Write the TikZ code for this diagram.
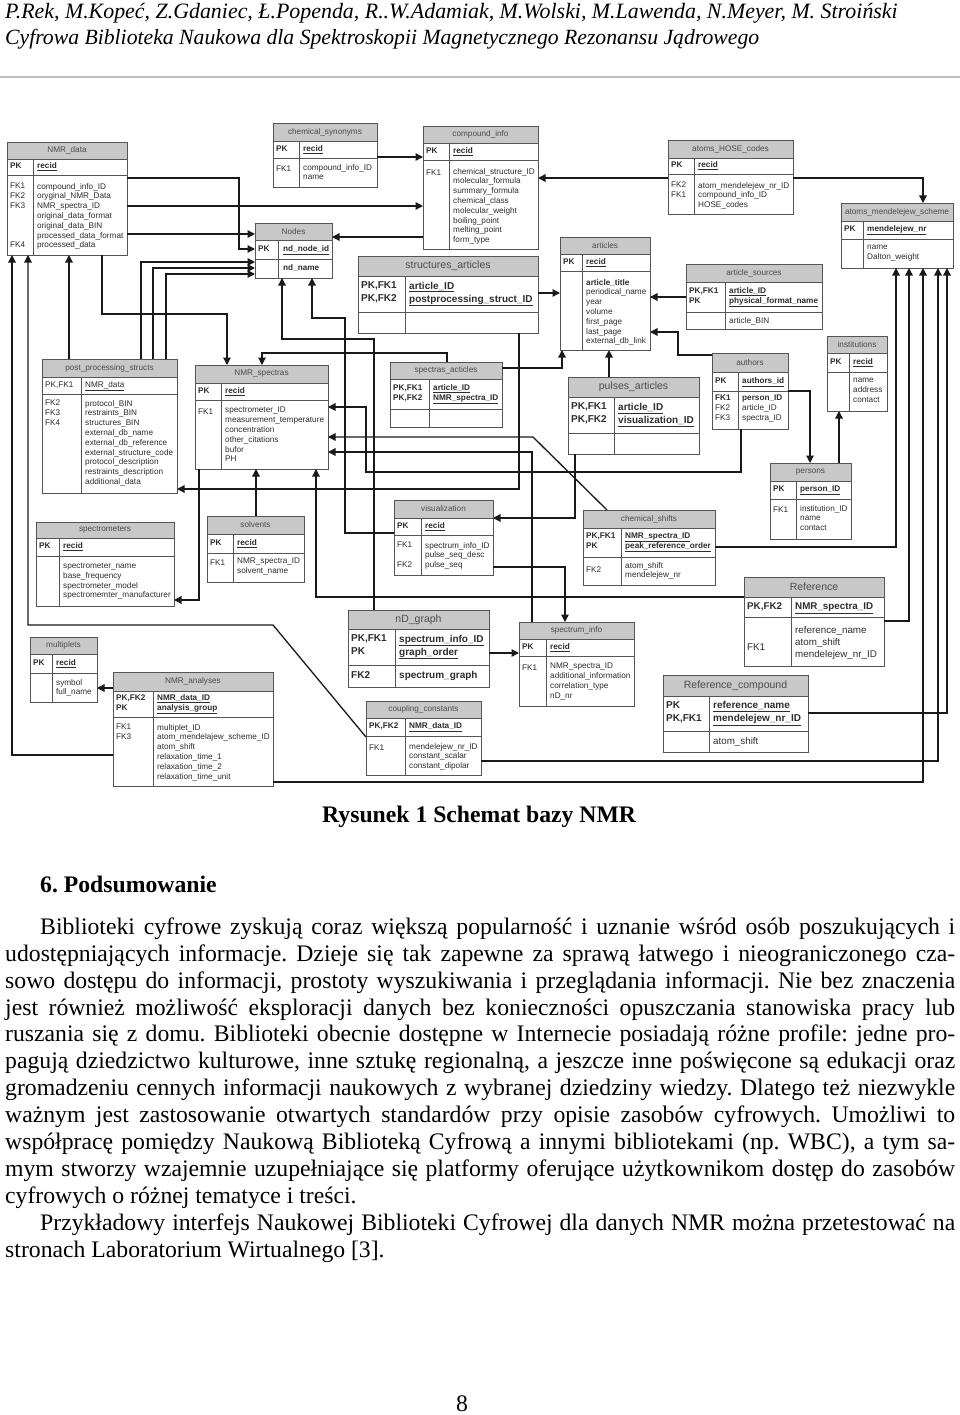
\documentclass[tikz,border=0pt]{standalone}
\usepackage{fontspec}
\setmainfont{Liberation Serif}
\setsansfont{Liberation Sans}
\usetikzlibrary{arrows.meta}
\definecolor{titlegray}{RGB}{200,200,200}
\definecolor{tabline}{RGB}{85,85,85}
\definecolor{tabtext}{RGB}{45,45,45}
\newcommand\tsmall{\sffamily\fontsize{8.2}{9.8}\selectfont}
\newcommand\tmid{\sffamily\fontsize{9.8}{12.3}\selectfont}
\newcommand\tbig{\sffamily\fontsize{10}{13}\selectfont}
\newcommand\ttbig{\fontsize{10.5}{12}\selectfont}
\newcommand\pk[1]{\textbf{\underline{#1}}}
\newcommand\bodyfont{\fontsize{23.7}{27}\selectfont}
\tikzset{
  tabframe/.style={draw=tabline, line width=0.9pt, inner sep=0pt, outer sep=0pt},
  tabtitle/.style={inner sep=0pt, font=\tsmall, text=black!70},
  cell/.style={inner sep=0pt, anchor=north west, align=left, font=\tsmall, text=tabtext, execute at begin node=\strut},
  pkcell/.style={cell, anchor=west},
  fk/.style={draw=black!90, line width=1.3pt, -{Triangle[length=7.5pt,width=7.5pt]}},
  txt/.style={inner sep=0pt, anchor=base west, font=\bodyfont},
}
% one table: name, x1, y1, x2, y2, key column, title bottom, pk bottom, title
\newcommand\ertab[9]{%
  \fill[titlegray] (#2,#3) rectangle (#4,#7);
  \draw[tabline, line width=0.9pt] (#2,#7) -- (#4,#7) (#2,#8) -- (#4,#8) (#6,#7) -- (#6,#5);
  \node[tabframe, minimum width={(#4)-(#2)}, minimum height={(#5)-(#3)}] (#1) at ({((#2)+(#4))/2},{((#3)+(#5))/2}) {};
  \node[tabtitle] (#1-t) at ({((#2)+(#4))/2},{((#3)+(#7))/2}) {#9};
}
% one row block: style, name, key x, field x, y, keys, fields
\newcommand\trow[7][cell]{%
  \node[#1] (#2k) at (#3,#5) {#6};
  \node[#1] (#2f) at (#4,#5) {#7};
}
\begin{document}
\catcode`\_=12
\frenchspacing
\begin{tikzpicture}[x=1pt,y=-1pt]
\useasboundingbox (0,0) rectangle (960,1415);
\fill[white] (0,0) rectangle (960,1415);

% running head
\node[inner sep=0pt, anchor=base west, font=\itshape\fontsize{21.9}{26}\selectfont] (head1) at (5,19) {P.Rek, M.Kopeć, Z.Gdaniec, Ł.Popenda, R..W.Adamiak, M.Wolski, M.Lawenda, N.Meyer, M. Stroiński};
\node[inner sep=0pt, anchor=base west, font=\itshape\fontsize{21.7}{26}\selectfont] (head2) at (5,45) {Cyfrowa Biblioteka Naukowa dla Spektroskopii Magnetycznego Rezonansu Jądrowego};
\draw[black!25, line width=1.5pt] (0,77) -- (960,77);

% NMR_data
\ertab{nmrdata}{7}{142}{127}{255}{33}{159}{175}{NMR_data}
\trow[pkcell]{nmrdata1}{10}{37}{167}{\textbf{PK}}{\pk{recid}}
\trow{nmrdata2}{10}{37}{183}{FK1\\FK2\\FK3\\\mbox{}\\\mbox{}\\\mbox{}\\FK4}{compound_info_ID\\oryginal_NMR_Data\\NMR_spectra_ID\\original_data_format\\original_data_BIN\\processed_data_format\\processed_data}

% chemical_synonyms
\ertab{chemsyn}{273}{123}{377}{187}{299}{141}{158}{chemical_synonyms}
\trow[pkcell]{chemsyn1}{276}{303}{149.5}{\textbf{PK}}{\pk{recid}}
\trow{chemsyn2}{276}{303}{164}{FK1}{compound_info_ID\\name}

% compound_info
\ertab{compinfo}{423}{126}{538}{249}{449}{143}{160}{compound_info}
\trow[pkcell]{compinfo1}{426}{453}{151.5}{\textbf{PK}}{\pk{recid}}
\trow{compinfo2}{426}{453}{168}{FK1}{chemical_structure_ID\\molecular_formula\\summary_formula\\chemical_class\\molecular_weight\\boiling_point\\melting_point\\form_type}

% Nodes
\ertab{nodes}{255}{223}{332}{278}{278}{240}{259}{Nodes}
\trow[pkcell]{nodes1}{258}{283}{249.5}{\textbf{PK}}{\pk{nd_node_id}}
\trow[pkcell]{nodes2}{258}{283}{268.5}{}{\textbf{nd_name}}

% atoms_HOSE_codes
\ertab{hose}{668}{140}{793}{214}{694}{158}{174}{atoms_HOSE_codes}
\trow[pkcell]{hose1}{671}{698}{166}{\textbf{PK}}{\pk{recid}}
\trow{hose2}{671}{698}{182}{FK2\\FK1}{atom_mendelejew_nr_ID\\compound_info_ID\\HOSE_codes}

% atoms_mendelejew_scheme
\ertab{mendel}{841}{203}{953}{268}{863}{221}{239}{atoms_mendelejew_scheme}
\trow[pkcell]{mendel1}{844}{867}{230}{\textbf{PK}}{\pk{mendelejew_nr}}
\trow{mendel2}{844}{867}{245}{}{name\\Dalton_weight}

% articles
\ertab{articles}{560}{237}{650}{350}{582}{254}{271}{articles}
\trow[pkcell]{articles1}{563}{586}{262.5}{\textbf{PK}}{\pk{recid}}
\trow{articles2}{563}{586}{279}{}{\textbf{article_title}\\periodical_name\\year\\volume\\first_page\\last_page\\external_db_link}

% article_sources
\ertab{artsrc}{686}{264}{822}{329}{725}{282}{312}{article_sources}
\trow[pkcell]{artsrc1}{689}{729}{297}{\textbf{PK,FK1}\\\textbf{PK}}{\pk{article_ID}\\\pk{physical_format_name}}
\trow{artsrc2}{689}{729}{316}{}{article_BIN}

% structures_articles
\ertab{structart}{358}{256}{538}{333}{405}{276}{312}{\ttbig structures_articles}
\trow[pkcell,font=\tbig]{structart1}{361}{409}{294}{\textbf{PK,FK1}\\\textbf{PK,FK2}}{\pk{article_ID}\\\pk{postprocessing_struct_ID}}

% post_processing_structs
\ertab{pps}{42}{359}{177}{493}{81}{377}{394}{post_processing_structs}
\trow[pkcell]{pps1}{45}{85}{385.5}{PK,FK1}{\underline{NMR_data}}
\trow{pps2}{45}{85}{400}{FK2\\FK3\\FK4}{protocol_BIN\\restraints_BIN\\structures_BIN\\external_db_name\\external_db_reference\\external_structure_code\\protocol_description\\restraints_description\\additional_data}

% NMR_spectras
\ertab{nmrspec}{195}{365}{328}{469}{221}{383}{400}{NMR_spectras}
\trow[pkcell]{nmrspec1}{198}{225}{391.5}{\textbf{PK}}{\pk{recid}}
\trow{nmrspec2}{198}{225}{407}{FK1}{spectrometer_ID\\measurement_temperature\\concentration\\other_citations\\bufor\\PH}

% spectras_acticles
\ertab{specart}{390}{362}{502}{427}{429}{379}{409}{spectras_acticles}
\trow[pkcell]{specart1}{393}{433}{394}{\textbf{PK,FK1}\\\textbf{PK,FK2}}{\pk{article_ID}\\\pk{NMR_spectra_ID}}

% pulses_articles
\ertab{pulsart}{568}{377}{699}{454}{614}{397}{433}{\ttbig pulses_articles}
\trow[pkcell,font=\tbig]{pulsart1}{571}{618}{415}{\textbf{PK,FK1}\\\textbf{PK,FK2}}{\pk{article_ID}\\\pk{visualization_ID}}

% authors
\ertab{authors}{712}{353}{788}{429}{738}{372}{391}{authors}
\trow[pkcell]{authors1}{715}{742}{381.5}{\textbf{PK}}{\pk{authors_id}}
\trow{authors2}{715}{742}{395}{\textbf{FK1}\\FK2\\FK3}{\textbf{person_ID}\\article_ID\\spectra_ID}

% institutions
\ertab{inst}{827}{336}{887}{411}{849}{353}{372}{institutions}
\trow[pkcell]{inst1}{830}{853}{362.5}{\textbf{PK}}{\pk{recid}}
\trow{inst2}{830}{853}{378}{}{name\\address\\contact}

% persons
\ertab{persons}{770}{463}{851}{539}{796}{481}{499}{persons}
\trow[pkcell]{persons1}{773}{800}{490}{\textbf{PK}}{\pk{person_ID}}
\trow{persons2}{773}{800}{505}{FK1}{institution_ID\\name\\contact}

% spectrometers
\ertab{spectrom}{36}{522}{174}{606}{59}{538}{556}{spectrometers}
\trow[pkcell]{spectrom1}{39}{63}{547}{\textbf{PK}}{\pk{recid}}
\trow{spectrom2}{39}{63}{563}{}{spectrometer_name\\base_frequency\\spectrometer_model\\spectromemter_manufacturer}

% solvents
\ertab{solv}{207}{516}{304}{582}{233}{534}{553}{solvents}
\trow[pkcell]{solv1}{210}{237}{543.5}{\textbf{PK}}{\pk{recid}}
\trow{solv2}{210}{237}{558}{FK1}{NMR_spectra_ID\\solvent_name}

% visualization
\ertab{visual}{394}{500}{493}{575}{421}{518}{535}{visualization}
\trow[pkcell]{visual1}{397}{425}{526.5}{\textbf{PK}}{\pk{recid}}
\trow{visual2}{397}{425}{542}{FK1\\\mbox{}\\FK2}{spectrum_info_ID\\pulse_seq_desc\\pulse_seq}

% chemical_shifts
\ertab{chemsh}{583}{510}{715}{585}{621}{528}{557}{chemical_shifts}
\trow[pkcell]{chemsh1}{586}{625}{542.5}{\textbf{PK,FK1}\\\textbf{PK}}{\pk{NMR_spectra_ID}\\\pk{peak_reference_order}}
\trow{chemsh2}{586}{625}{562}{\mbox{}\\FK2}{atom_shift\\mendelejew_nr}

% multiplets
\ertab{multi}{30}{637}{97}{702}{52}{654}{673}{multiplets}
\trow[pkcell]{multi1}{33}{56}{663.5}{\textbf{PK}}{\pk{recid}}
\trow{multi2}{33}{56}{679}{}{symbol\\full_name}

% NMR_analyses
\ertab{nmranal}{113}{672}{273}{786}{153}{691}{717}{NMR_analyses}
\trow[pkcell]{nmranal1}{116}{157}{704}{\textbf{PK,FK2}\\\textbf{PK}}{\pk{NMR_data_ID}\\\pk{analysis_group}}
\trow{nmranal2}{116}{157}{724}{FK1\\FK3}{multiplet_ID\\atom_mendelajew_scheme_ID\\atom_shift\\relaxation_time_1\\relaxation_time_2\\relaxation_time_unit}

% nD_graph
\ertab{ndgraph}{348}{610}{489}{687}{395}{629}{665}{\ttbig nD_graph}
\trow[pkcell,font=\tbig]{ndgraph1}{351}{399}{647}{\textbf{PK,FK1}\\\textbf{PK}}{\pk{spectrum_info_ID}\\\pk{graph_order}}
\trow[pkcell,font=\tbig]{ndgraph2}{351}{399}{676}{\textbf{FK2}}{\textbf{spectrum_graph}}

% spectrum_info
\ertab{specinfo}{519}{622}{634}{706}{546}{639}{656}{spectrum_info}
\trow[pkcell]{specinfo1}{522}{550}{647.5}{\textbf{PK}}{\pk{recid}}
\trow{specinfo2}{522}{550}{663}{FK1}{NMR_spectra_ID\\additional_information\\correlation_type\\nD_nr}

% coupling_constants
\ertab{coupl}{366}{701}{481}{775}{405}{718}{736}{coupling_constants}
\trow[pkcell]{coupl1}{369}{409}{727}{\textbf{PK,FK2}}{\pk{NMR_data_ID}}
\trow{coupl2}{369}{409}{743}{FK1}{mendelejew_nr_ID\\constant_scalar\\constant_dipolar}

% Reference
\ertab{ref}{744}{577}{884}{666}{791}{597}{617}{\ttbig Reference}
\trow[pkcell,font=\tmid]{ref1}{747}{795}{607}{\textbf{PK,FK2}}{\pk{NMR_spectra_ID}}
\trow[cell,font=\tmid]{ref2}{747}{795}{626}{\mbox{}\\\mbox{}\\FK1}{reference_name\\atom_shift\\mendelejew_nr_ID}

% Reference_compound
\ertab{refcomp}{663}{675}{808}{752}{709}{696}{731}{\ttbig Reference_compound}
\trow[pkcell,font=\tbig]{refcomp1}{666}{713}{713.5}{\textbf{PK}\\\textbf{PK,FK1}}{\pk{reference_name}\\\pk{mendelejew_nr_ID}}
\trow[cell,font=\tmid]{refcomp2}{666}{713}{736}{}{atom_shift}

% relations
\draw[fk] (nmrdata.east |- 0,178) -| (239,249) -- (nodes.west |- 0,249);
\draw[fk] (nmrdata.east |- 0,206) -- (compinfo.west |- 0,206);
\draw[fk] (nmrdata.east |- 0,234) -- (nodes.west |- 0,234);
\draw[fk] (nmrdata.south -| 102,0) |- (227,314) -- (nmrspec.north -| 227,0);
\draw[fk] (chemsyn.east |- 0,157) -- (compinfo.west |- 0,157);
\draw[fk] (compinfo.west |- 0,237) -- (nodes.east |- 0,237);
\draw[fk] (hose.west |- 0,178) -- (compinfo.east |- 0,178);
\draw[fk] (hose.east |- 0,178) -| (mendel.north -| 923,0);
\draw[fk] (structart.east |- 0,293) -- (articles.west |- 0,293);
\draw[fk] (structart.south -| 519,0) |- (pps.east |- 0,489);
\draw[fk] (pps.north -| 69,0) -- (nmrdata.south -| 69,0);
\draw[fk] (pps.north -| 141,0) |- (nodes.west |- 0,262);
\draw[fk] (pps.north -| 153,0) |- (nodes.west |- 0,268);
\draw[fk] (pps.north -| 166,0) |- (nodes.west |- 0,274);
\draw[fk] (artsrc.west |- 0,297) -- (articles.east |- 0,297);
\draw[fk] (authors.west |- 0,355) -| (678,332) -- (articles.east |- 0,332);
\draw[fk] (authors.east |- 0,391) -| (persons.north -| 810,0);
\draw[fk] (persons.north -| 839,0) -- (inst.south -| 839,0);
\draw[fk] (authors.south -| 741,0) |- (366,472) |- (nmrspec.east |- 0,407);
\draw[fk] (specart.east |- 0,368) -| (articles.south -| 562,0);
\draw[fk] (specart.north -| 447,0) |- (262,353) -- (nmrspec.north -| 262,0);
\draw[fk] (pulsart.north -| 609,0) -- (articles.south -| 609,0);
\draw[fk] (pulsart.south -| 575,0) |- (visual.east |- 0,518);
\draw[fk] (visual.west |- 0,533) -| (345,318) -| (nodes.south -| 312,0);
\draw[fk] (ndgraph.north -| 374,0) |- (282,339) -- (nodes.south -| 282,0);
\draw[fk] (chemsh.north -| 607,0) -- (533,437) -- (nmrspec.east |- 0,437);
\draw[fk] (specinfo.north -| 532,0) |- (nmrspec.east |- 0,452);
\draw[fk] (chemsh.east |- 0,547) -| (mendel.south -| 896,0);
\draw[fk] (ndgraph.east |- 0,653) -- (specinfo.west |- 0,653);
\draw[fk] (visual.east |- 0,567) -| (specinfo.north -| 565,0);
\draw[fk] (nmrspec.south -| 199,0) |- (spectrom.east |- 0,600);
\draw[fk] (solv.north -| 256,0) -- (nmrspec.south -| 256,0);
\draw[fk] (ref.west |- 0,597) -| (nmrspec.south -| 316,0);
\draw[fk] (ref.east |- 0,621) -| (mendel.south -| 909,0);
\draw[fk] (nmranal.east |- 0,782) -| (mendel.south -| 923,0);
\draw[fk] (coupl.east |- 0,761) -| (mendel.south -| 938,0);
\draw[fk] (refcomp.east |- 0,713) -| (mendel.south -| 947,0);
\draw[fk] (nmranal.west |- 0,688) -- (multi.east |- 0,688);
\draw[fk] (nmranal.west |- 0,755) -| (nmrdata.south -| 12,0);
\draw[fk] (coupl.west |- 0,737) -- (273,625) -| (nmrdata.south -| 28,0);

% caption and text
\node[txt, font=\bodyfont\bfseries] (caption) at (322,822) {Rysunek 1 Schemat bazy NMR};
\node[txt, font=\bodyfont\bfseries] (sect) at (40,892) {6. Podsumowanie};
\node[txt] (p1) at (40,934) {\makebox[915pt][s]{Biblioteki cyfrowe zyskują coraz większą popularność i uznanie wśród osób poszukujących i}};
\node[txt] (p2) at (5,961) {\makebox[950pt][s]{udostępniających informacje. Dzieje się tak zapewne za sprawą łatwego i nieograniczonego cza-}};
\node[txt] (p3) at (5,988) {\makebox[950pt][s]{sowo dostępu do informacji, prostoty wyszukiwania i przeglądania informacji. Nie bez znaczenia}};
\node[txt] (p4) at (5,1015) {\makebox[950pt][s]{jest również możliwość eksploracji danych bez konieczności opuszczania stanowiska pracy lub}};
\node[txt] (p5) at (5,1041) {\makebox[950pt][s]{ruszania się z domu. Biblioteki obecnie dostępne w Internecie posiadają różne profile: jedne pro-}};
\node[txt] (p6) at (5,1068) {\makebox[950pt][s]{pagują dziedzictwo kulturowe, inne sztukę regionalną, a jeszcze inne poświęcone są edukacji oraz}};
\node[txt] (p7) at (5,1095) {\makebox[950pt][s]{gromadzeniu cennych informacji naukowych z wybranej dziedziny wiedzy. Dlatego też niezwykle}};
\node[txt] (p8) at (5,1122) {\makebox[950pt][s]{ważnym jest zastosowanie otwartych standardów przy opisie zasobów cyfrowych. Umożliwi to}};
\node[txt] (p9) at (5,1149) {\makebox[950pt][s]{współpracę pomiędzy Naukową Biblioteką Cyfrową a innymi bibliotekami (np. WBC), a tym sa-}};
\node[txt] (p10) at (5,1176) {\makebox[950pt][s]{mym stworzy wzajemnie uzupełniające się platformy oferujące użytkownikom dostęp do zasobów}};
\node[txt] (p11) at (5,1203) {cyfrowych o różnej tematyce i treści.};
\node[txt] (p12) at (40,1230) {\makebox[915pt][s]{Przykładowy interfejs Naukowej Biblioteki Cyfrowej dla danych NMR można przetestować na}};
\node[txt] (p13) at (5,1257) {stronach Laboratorium Wirtualnego [3].};
\node[txt] (pagenum) at (456,1411) {8};
\end{tikzpicture}
\end{document}
